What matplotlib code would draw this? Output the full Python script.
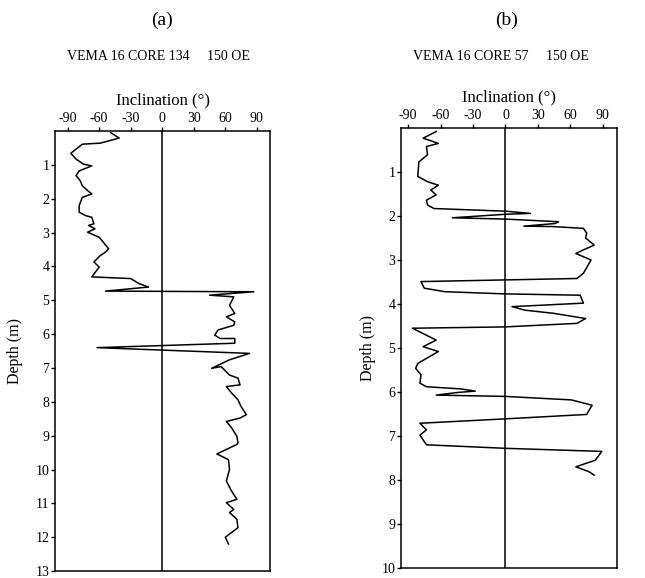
import matplotlib.pyplot as plt

plt.rcParams['font.family'] = ['Liberation Serif', 'DejaVu Serif']
plt.rcParams['axes.unicode_minus'] = False

# core 134 (panel a): inclination (deg) vs depth (m)
depth_a = [0.05, 0.21, 0.36, 0.39, 0.66, 0.83, 0.98, 1.03, 1.18, 1.32, 1.47, 1.62,
           1.76, 1.86, 1.96, 2.2, 2.4, 2.5, 2.55, 2.74, 2.79, 2.89, 2.99, 3.14,
           3.29, 3.48, 3.58, 3.68, 3.87, 4.02, 4.31, 4.36, 4.51, 4.61, 4.66, 4.73,
           4.75, 4.85, 4.9, 5.15, 5.39, 5.49, 5.64, 5.74, 5.88, 6.03, 6.13, 6.13,
           6.27, 6.4, 6.57, 6.76, 7.01, 6.96, 7.21, 7.3, 7.5, 7.55, 7.74, 7.94,
           8.14, 8.38, 8.48, 8.58, 8.77, 9.02, 9.21, 9.26, 9.54, 9.71, 10.0,
           10.34, 10.64, 10.88, 10.98, 11.18, 11.27, 11.47, 11.72, 12.0, 12.2]
incl_a = [-49, -41, -59, -76, -87, -82, -75, -67, -79, -82, -78, -76,
          -71, -67, -76, -79, -79, -73, -67, -65, -70, -64, -71, -60,
          -56, -51, -54, -59, -65, -60, -67, -30, -22, -13, -30, -54,
          87, 45, 68, 64, 69, 61, 69, 68, 53, 50, 55, 69,
          69, -62, 83, 64, 47, 56, 64, 72, 74, 61, 66, 72,
          75, 80, 74, 61, 66, 71, 72, 71, 52, 63, 64,
          61, 66, 71, 61, 68, 64, 71, 72, 60, 63]

# core 57 (panel b)
depth_b = [0.08, 0.23, 0.35, 0.42, 0.61, 0.77, 1.1, 1.22, 1.3, 1.41, 1.52, 1.64,
           1.75, 1.83, 1.89, 1.94, 1.96, 2.04, 2.07, 2.13, 2.17, 2.23, 2.24, 2.28,
           2.39, 2.5, 2.66, 2.77, 2.85, 3.0, 3.3, 3.42, 3.49, 3.64, 3.72, 3.77,
           3.8, 3.98, 4.06, 4.14, 4.21, 4.33, 4.44, 4.52, 4.55, 4.82, 4.97, 5.08,
           5.35, 5.46, 5.61, 5.8, 5.88, 5.93, 5.98, 6.01, 6.07, 6.1, 6.18, 6.3,
           6.51, 6.61, 6.71, 6.86, 6.98, 7.2, 7.28, 7.35, 7.55, 7.7, 7.81, 7.89]
incl_b = [-64, -76, -62, -73, -72, -80, -81, -72, -62, -69, -64, -73,
          -72, -66, 0, 23, 0, -49, 0, 49, 46, 17, 44, 72,
          75, 74, 82, 72, 65, 79, 72, 66, -78, -75, -56, 0,
          69, 72, 6, 18, 44, 74, 66, 0, -86, -64, -76, -62,
          -81, -83, -78, -79, -73, -41, -28, -44, -64, 0, 61, 80,
          75, 0, -79, -73, -79, -73, 0, 89, 83, 65, 77, 82]

xticks = [-90, -60, -30, 0, 30, 60, 90]

fig = plt.figure(figsize=(6.45, 5.78), dpi=100)
ax_a = fig.add_axes([0.0853, 0.012, 0.3333, 0.7614])
ax_b = fig.add_axes([0.6217, 0.0173, 0.3349, 0.7612])

panels = [
    (ax_a, depth_a, incl_a, (-102, 102.5), 13, range(1, 14), 9),
    (ax_b, depth_b, incl_b, (-96.5, 103), 10, range(1, 11), 4),
]

for ax, d, inc, xl, dmax, yt, ypad in panels:
    ax.plot(inc, d, color='black', lw=1.1)
    ax.axvline(0, color='black', lw=1.1)
    ax.set_xlim(*xl)
    ax.set_ylim(dmax, 0)
    ax.set_xticks(xticks)
    ax.set_yticks(list(yt))
    ax.xaxis.tick_top()
    ax.xaxis.set_label_position('top')
    ax.set_xlabel('Inclination (°)', fontsize=12, labelpad=6)
    ax.set_ylabel('Depth (m)', fontsize=11.5, labelpad=ypad)
    ax.tick_params(axis='both', direction='out', length=3, width=1,
                   labelsize=10, pad=1)
    for s in ax.spines.values():
        s.set_linewidth(1.1)

fig.text(162 / 645, 1 - 20 / 578, '(a)', ha='center', va='center', fontsize=14)
fig.text(507 / 645, 1 - 20 / 578, '(b)', ha='center', va='center', fontsize=14)
fig.text(67 / 645, 1 - 57 / 578, 'VEMA 16 CORE 134', ha='left',
         va='center', fontsize=10)
fig.text(207 / 645, 1 - 57 / 578, '150 OE', ha='left', va='center', fontsize=10)
fig.text(413 / 645, 1 - 57 / 578, 'VEMA 16 CORE 57', ha='left',
         va='center', fontsize=10)
fig.text(546 / 645, 1 - 57 / 578, '150 OE', ha='left', va='center', fontsize=10)

fig.savefig('out.png', dpi=100)
